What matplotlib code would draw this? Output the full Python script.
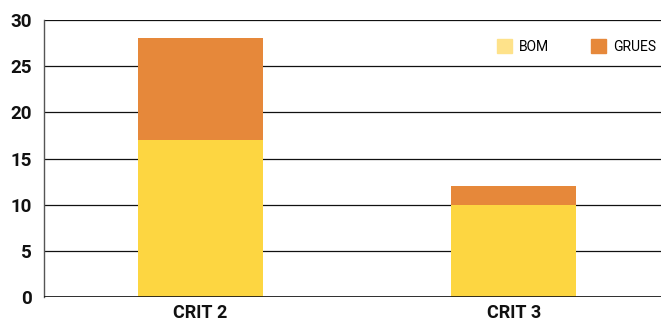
import matplotlib
matplotlib.use("Agg")
import matplotlib.pyplot as plt
from matplotlib.patches import Patch

plt.rcParams["font.family"] = ["Roboto", "DejaVu Sans"]

categories = ["CRIT 2", "CRIT 3"]
bom = [17, 10]
grues = [11, 2]

BOM_COLOR = "#FDD641"
BOM_LEGEND = "#FEE28A"
GRUES_COLOR = "#E6883A"

fig = plt.figure(figsize=(6.61, 3.24), dpi=100)
ax = fig.add_axes([0.0666, 0.0833, 0.9334, 0.855])

x = list(range(len(categories)))
ax.bar(x, bom, width=0.4, color=BOM_COLOR, zorder=3)
ax.bar(x, grues, width=0.4, bottom=bom, color=GRUES_COLOR, zorder=3)

ax.set_xlim(-0.5, 1.47)
ax.set_ylim(0, 30)
ax.set_yticks(range(0, 31, 5))
ax.set_xticks(x)
ax.set_xticklabels(categories, fontsize=13, fontweight="bold", color="#111111")
ax.tick_params(axis="y", labelsize=13.5, length=0, pad=9, labelcolor="#111111")
ax.tick_params(axis="x", length=0, pad=5)
for lbl in ax.get_yticklabels():
    lbl.set_fontweight("bold")

ax.yaxis.grid(True, color="#111111", linewidth=0.9, zorder=0)
for side in ("top", "right", "bottom"):
    ax.spines[side].set_visible(False)
ax.spines["left"].set_color("#555555")
ax.spines["left"].set_linewidth(1.0)
ax.axhline(0, color="#111111", linewidth=1.2, zorder=4)

handles = [Patch(color=BOM_LEGEND, label="BOM"), Patch(color=GRUES_COLOR, label="GRUES")]
ax.legend(handles=handles, loc="upper right", bbox_to_anchor=(1.012, 0.975), ncol=2,
          frameon=False, fontsize=10, handlelength=1.1, handleheight=1.1,
          columnspacing=3.0, handletextpad=0.5)

fig.savefig("out.png", dpi=100)
